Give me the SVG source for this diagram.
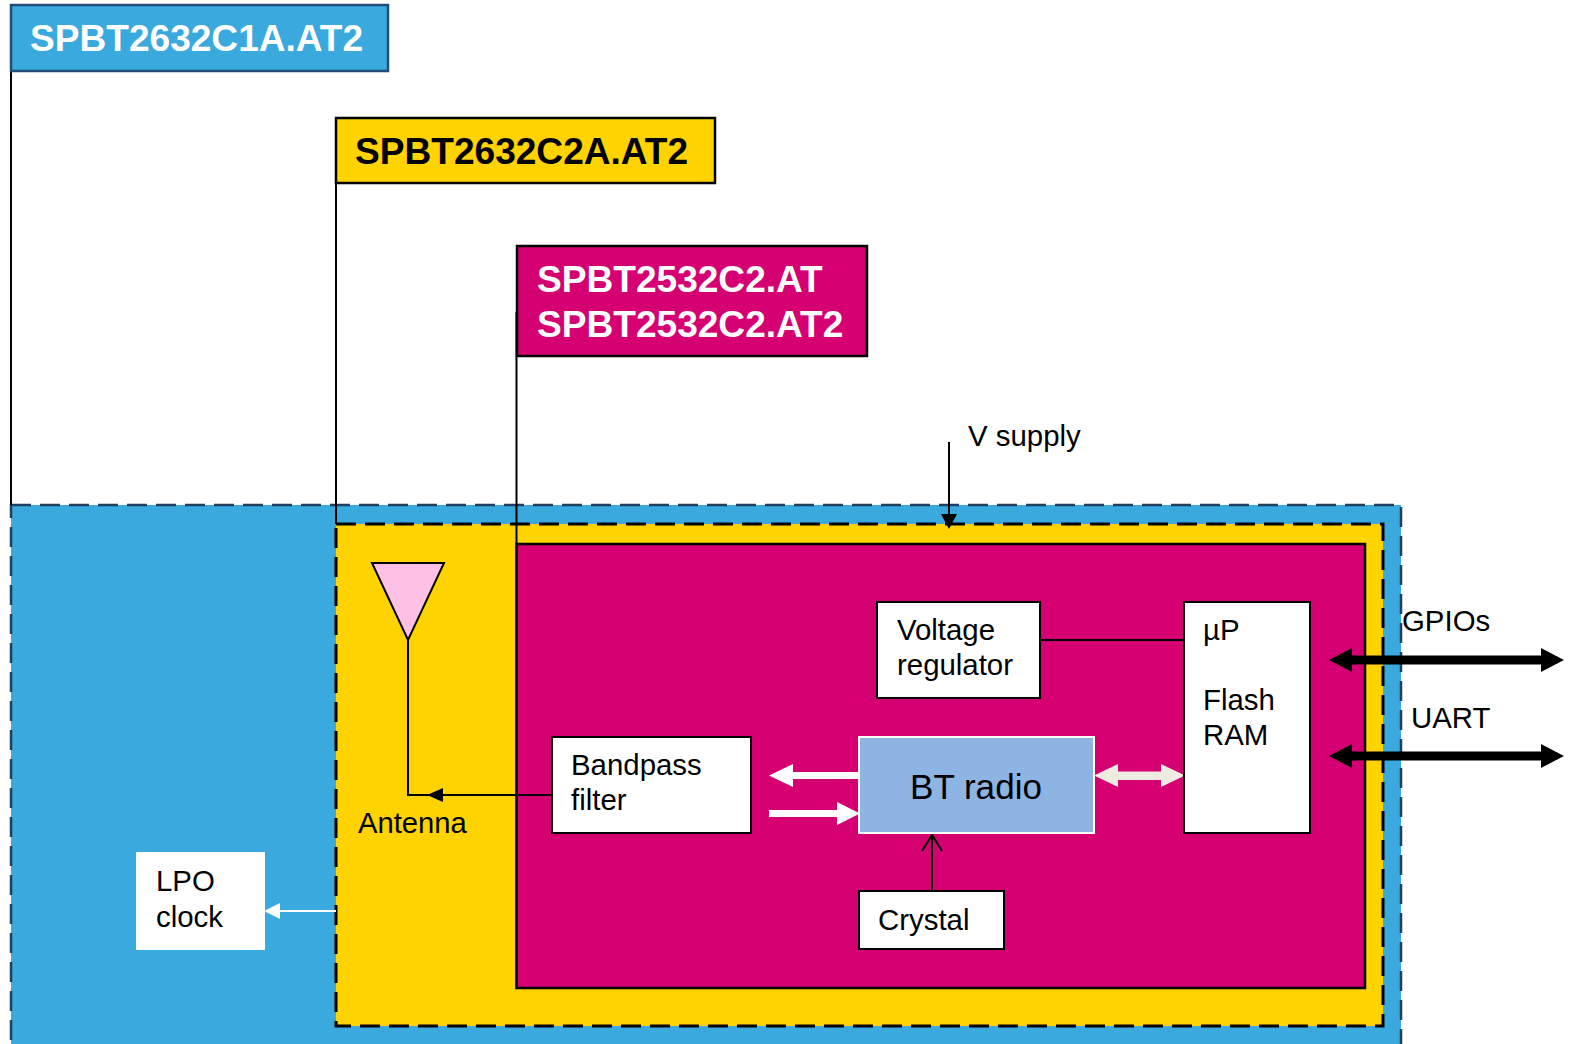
<svg xmlns="http://www.w3.org/2000/svg" width="1572" height="1044" viewBox="0 0 1572 1044">
<style>
text{font-family:"Liberation Sans",Arial,sans-serif;font-size:29.4px;fill:#000}
.t{font-weight:bold;font-size:37.1px}
.w{fill:#fff}
.k{stroke:#000;fill:none}
.box{fill:#fff;stroke:#000;stroke-width:2}
.dash{stroke-dasharray:20 9}
</style>
<g id="module-blue"><rect class="dash" x="11" y="505" width="1390" height="545" fill="#3aa9dd" stroke="#1f3f63" stroke-width="2.500"/></g>
<g id="module-yellow"><rect class="dash" x="336" y="524" width="1047" height="502" fill="#ffd300" stroke="#000" stroke-width="3"/></g>
<g id="module-magenta"><rect x="516.500" y="544" width="848.500" height="444" fill="#d50071" stroke="#000" stroke-width="2.500"/></g>
<g id="connectors">
<path class="k" stroke-width="2" d="M11 22V505M336 150V524M516.500 312V544"/>
<path class="k" stroke-width="2" d="M949 442V516"/><path d="M941 514L949 529L957 514z" fill="#000"/>
<path class="k" stroke-width="2" d="M408 640V795H552"/><path d="M427 795L443 788V802z" fill="#000"/>
<path class="k" stroke-width="2" d="M1040 640H1184"/>
<path class="k" stroke-width="2" d="M932 892V836M922 851L932 835L942 851"/>
<path d="M336 911H280" stroke="#fff" stroke-width="2" fill="none"/><path d="M264 911L280 903V919z" fill="#fff"/>
<path fill="#fff" d="M769 775.500L793 764V772H859V779H793V787z"/>
<path fill="#fff" d="M769 810H837V802L860 813.500L837 825V817H769z"/>
<path fill="#eeebe0" d="M1094 775.500L1118 764V771.500H1161V764L1185 775.500L1161 787V780H1118V787z"/>
<g fill="#000">
<path d="M1329 660L1352 648V655.500H1541V648L1564 660L1541 672V664.500H1352V672z"/>
<path d="M1329 756L1352 744V751.500H1541V744L1564 756L1541 768V760.500H1352V768z"/>
</g>
</g>
<g id="label-c1a"><rect x="11" y="5" width="377" height="66" fill="#3aa9dd" stroke="#1f4e79" stroke-width="2.500"/><text class="t w" x="30" y="51">SPBT2632C1A.AT2</text></g>
<g id="label-c2a"><rect x="336" y="118" width="379" height="65" fill="#ffd300" stroke="#000" stroke-width="2.500"/><text class="t" x="355" y="164">SPBT2632C2A.AT2</text></g>
<g id="label-2532"><rect x="517" y="246" width="350" height="110" fill="#d50071" stroke="#000" stroke-width="2.500"/><text class="t w" x="537" y="292">SPBT2532C2.AT</text><text class="t w" x="537" y="337">SPBT2532C2.AT2</text></g>
<g id="antenna"><path d="M372 563H444L408 640z" fill="#ffc0e6" stroke="#000" stroke-width="2"/><text x="358" y="833" style="font-size:29.200px">Antenna</text></g>
<g id="lpo"><rect x="136" y="852" width="129" height="98" fill="#fff"/><text x="156" y="891">LPO</text><text x="156" y="927">clock</text></g>
<g id="vreg"><rect class="box" x="877" y="602" width="163" height="96"/><text x="897" y="640">Voltage</text><text x="897" y="675">regulator</text></g>
<g id="up"><rect class="box" x="1184" y="602" width="126" height="231"/><text x="1203" y="640">µP</text><text x="1203" y="710">Flash</text><text x="1203" y="745">RAM</text></g>
<g id="bandpass"><rect class="box" x="552" y="737" width="199" height="96"/><text x="571" y="775">Bandpass</text><text x="571" y="810">filter</text></g>
<g id="radio"><rect x="859" y="737" width="235" height="96" fill="#8eb4e3" stroke="#fff" stroke-width="2"/><text x="910" y="799" style="font-size:35.100px">BT radio</text></g>
<g id="crystal"><rect class="box" x="859" y="891" width="145" height="58"/><text x="878" y="930">Crystal</text></g>
<g id="vsupply"><text x="968" y="446">V supply</text></g>
<g id="gpios"><text x="1402" y="631">GPIOs</text></g>
<g id="uart"><text x="1411" y="728">UART</text></g>
</svg>
